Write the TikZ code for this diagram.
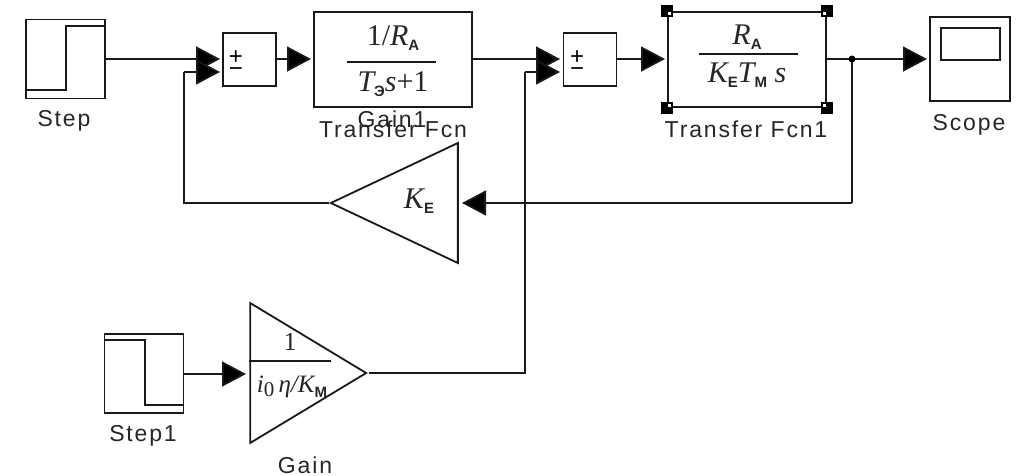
\documentclass[tikz,border=0pt]{standalone}
\usepackage{fontspec}
\setmainfont{Liberation Serif}
\setsansfont{Liberation Sans}
\newfontfamily\labfont[LetterSpace=8]{Liberation Sans}
\usetikzlibrary{arrows.meta,shapes.geometric,calc}
\newcommand{\sbs}[1]{\raisebox{-5pt}{\fontsize{15}{15}\selectfont\upshape\sffamily\bfseries #1}}
\tikzset{
  blk/.style={draw=black!90,line width=1.8pt,fill=white,rectangle,inner sep=0pt},
  sumbox/.style={blk,minimum width=53pt,minimum height=53pt},
  tfbox/.style={blk,minimum width=158pt,minimum height=95pt},
  srcbox/.style={blk,minimum width=79pt,minimum height=79pt},
  tri/.style={isosceles triangle,isosceles triangle stretches,draw=black!90,line width=1.8pt,inner sep=0pt,fill=white},
  lab/.style={inner sep=0pt,font=\labfont\fontsize{23}{23}\selectfont,text=black!85},
  eq/.style={inner sep=0pt,font=\fontsize{30}{30}\selectfont\itshape,text=black!85},
  sign/.style={inner sep=0pt,font=\sffamily\fontsize{24}{24}\selectfont,text=black},
  arr/.style={line width=1.8pt,draw=black!90,-{Triangle[width=25pt,length=24pt,fill=black]},shorten >=3pt},
  wire/.style={line width=1.8pt,draw=black!90},
  handle/.style={fill=black,minimum size=12pt,inner sep=0pt,rectangle}
}
\begin{document}
\begin{tikzpicture}[x=1pt,y=-1pt]
\useasboundingbox (0,0) rectangle (1019,476);
% blocks
\node[srcbox] (step) at (65.5,59) {};
\node[srcbox] (step1) at (144,373.5) {};
\node[sumbox] (sum1) at (249.5,59.5) {};
\node[sumbox] (sum2) at (590,59.5) {};
\node[tfbox] (tf) at (393,59.5) {};
\node[tfbox] (tf1) at (747,59.5) {};
\node[blk,minimum width=80pt,minimum height=84pt] (scope) at (970,59) {};
\node[blk,minimum width=59pt,minimum height=32pt] (screen) at (970.5,44) {};
\node[tri,shape border rotate=180,minimum width=120pt,minimum height=127pt,anchor=apex] (ke) at (328.5,203) {};
\node[tri,minimum width=140pt,minimum height=116pt,anchor=apex] (gain) at (368.5,373) {};
% block icons
\draw[wire] (27,90) -- (66,90) -- (66,26) -- (105,26);
\draw[wire] (105,340) -- (145,340) -- (145,405) -- (184,405);
% sum signs
\node[sign] (p1) at (236,58) {+};
\node[sign] (m1) at (236,72) {−};
\node[sign] (p2) at (577,58) {+};
\node[sign] (m2) at (577,72) {−};
% port coordinates
\coordinate (s1a) at (223,59);
\coordinate (s1b) at (223,72);
\coordinate (s2a) at (563,59);
\coordinate (s2b) at (563,72);
\coordinate (fbc) at (184,72);
\coordinate (gnc) at (525,72);
\coordinate (gnd) at (525,373);
\coordinate (ked) at (852,203);
\coordinate (tfin) at (314,59);
\coordinate (tfout) at (472,59);
\coordinate (tf1in) at (668,59);
\coordinate (tf1out) at (826,59);
\coordinate (scin) at (930,59);
\coordinate (kein) at (459,203);
\coordinate (s1out) at (276,59);
\coordinate (s2out) at (617,59);
\coordinate (gin) at (249,374);
\coordinate (stout) at (184,374);
% connectors
\draw[arr] (step.east) -- (s1a);
\draw[wire] (ke.apex) -| (fbc);
\draw[arr] (fbc) -- (s1b);
\draw[arr] (s1out) -- (tfin);
\draw[arr] (tfout) -- (s2a);
\draw[wire] (gain.apex) -- (gnd) -- (gnc);
\draw[arr] (gnc) -- (s2b);
\draw[arr] (s2out) -- (tf1in);
\draw[arr] (tf1out) -- (scin);
\draw[wire] (tf1out -| ked) -- (ked);
\draw[arr] (ked) -- (kein);
\draw[arr] (stout) -- (gin);
\node[circle,fill=black,minimum size=7pt,inner sep=0pt] (junc) at (852,59) {};
% transfer functions
\coordinate (fa) at (347,62);
\coordinate (fb) at (436,62);
\draw[wire] (fa) -- (fb);
\node[eq] (tfn) at (393,38) {\upshape 1/\itshape R\sbs{A}};
\node[eq] (tfd) at (393,84) {T\sbs{Э}s\upshape+1};
\coordinate (fc) at (699,54);
\coordinate (fd) at (798,54);
\draw[wire] (fc) -- (fd);
\node[eq] (tf1n) at (747,37) {R\sbs{A}};
\node[eq] (tf1d) at (747,75) {K\sbs{E}T\sbs{M} s};
% gains
\node[eq] (ken) at (419,201) {K\sbs{E}};
\coordinate (ga) at (249,361);
\coordinate (gb) at (331,361);
\draw[wire] (ga) -- (gb);
\node[eq,font=\fontsize{26}{26}\selectfont\upshape] (gn) at (290,342) {1};
\node[eq,font=\fontsize{25}{25}\selectfont\itshape] (gd) at (292,387) {i\raisebox{-4pt}{\upshape\fontsize{21}{21}\selectfont 0}\,η/K\sbs{M}};
% labels
\node[lab] (l1) at (64,121) {Step};
\node[lab] (l2) at (143,436) {Step1};
\node[lab] (l3) at (305,465) {Gain};
\node[lab] (l4) at (392,119) {Gain1};
\node[lab] (l5) at (393,129) {Transfer Fcn};
\node[lab] (l6) at (746,129) {Transfer Fcn1};
\node[lab] (l7) at (969,125) {Scope};
% selection handles
\foreach \n/\sx/\sy/\hn in {north west/1/1/ha,north east/-1/1/hb,south west/1/-1/hc,south east/-1/-1/hd}{
  \node[handle] (\hn) at (tf1.\n) {};
  \fill[white] ($(tf1.\n)+(2.5*\sx-1.5,2.5*\sy-1.5)$) rectangle ++(3,3);
}
\end{tikzpicture}
\end{document}
